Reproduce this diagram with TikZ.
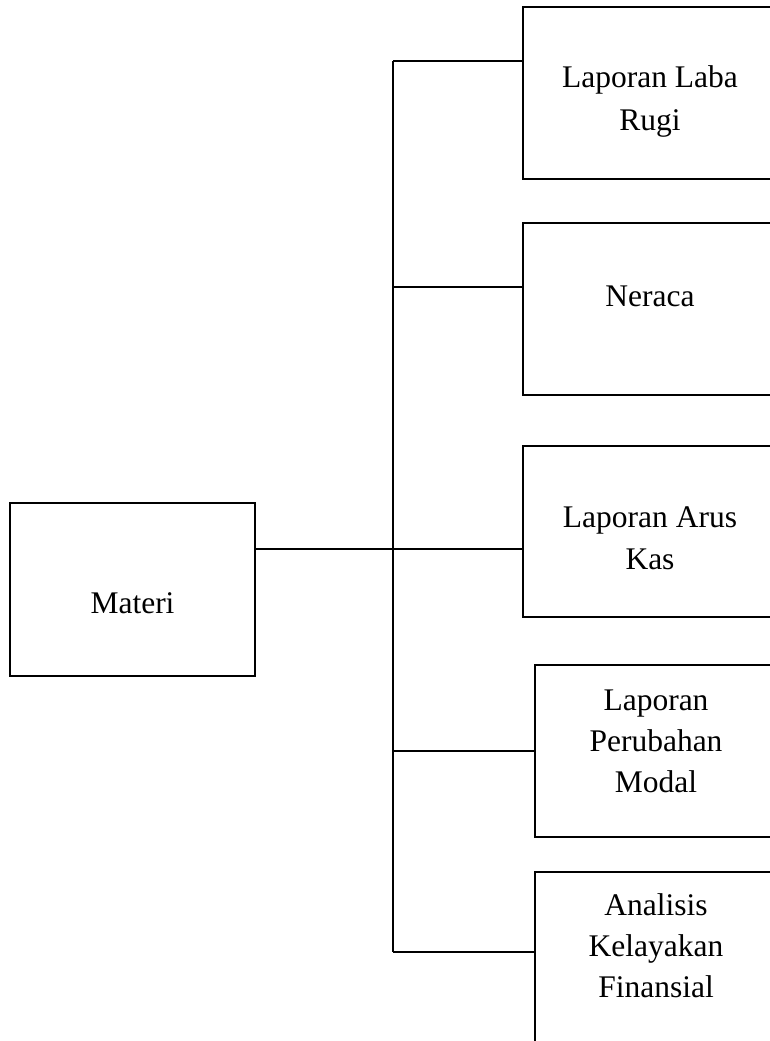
\documentclass[tikz,border=0pt]{standalone}
\usepackage{fontspec}
\setmainfont{Liberation Serif}
\begin{document}
\begin{tikzpicture}[x=1pt,y=-1pt,
  box/.style={draw=black,line width=1.5pt,rectangle,inner sep=0pt},
  lbl/.style={anchor=base,inner sep=0pt,font=\fontsize{31.5}{41}\selectfont},
  conn/.style={draw=black,line width=1.5pt}]
\useasboundingbox (0,0) rectangle (769,1041);
% boxes
\node[box,minimum width=245pt,minimum height=173pt] (m) at (132.5,589.5) {};
\node[box,minimum width=254pt,minimum height=172pt] (b1) at (650,93) {};
\node[box,minimum width=254pt,minimum height=172pt] (b2) at (650,309) {};
\node[box,minimum width=254pt,minimum height=171pt] (b3) at (650,531.5) {};
\node[box,minimum width=242pt,minimum height=172pt] (b4) at (656,751) {};
\node[box,minimum width=242pt,minimum height=172pt] (b5) at (656,958) {};
% labels
\node[lbl] (tm) at (132.5,613) {Materi};
\node[lbl] (t1a) at (650,88) {Laporan Laba};
\node[lbl] (t1b) at (650,130) {Rugi};
\node[lbl] (t2) at (650,306) {Neraca};
\node[lbl] (t3a) at (650,527) {Laporan Arus};
\node[lbl] (t3b) at (650,569) {Kas};
\node[lbl] (t4a) at (656,710) {Laporan};
\node[lbl] (t4b) at (656,751) {Perubahan};
\node[lbl] (t4c) at (656,792) {Modal};
\node[lbl] (t5a) at (656,915) {Analisis};
\node[lbl] (t5b) at (656,956) {Kelayakan};
\node[lbl] (t5c) at (656,997) {Finansial};
% junctions
\coordinate (j1) at (393,61);
\coordinate (j2) at (393,287);
\coordinate (j3) at (393,549);
\coordinate (j4) at (393,751);
\coordinate (j5) at (393,952);
% connectors
\draw[conn] (j1) -- (j5);
\draw[conn] (j1) -- (j1 -| b1.west);
\draw[conn] (j2) -- (j2 -| b2.west);
\draw[conn] (m.east |- j3) -- (j3 -| b3.west);
\draw[conn] (j4) -- (j4 -| b4.west);
\draw[conn] (j5) -- (j5 -| b5.west);
\end{tikzpicture}
\end{document}
